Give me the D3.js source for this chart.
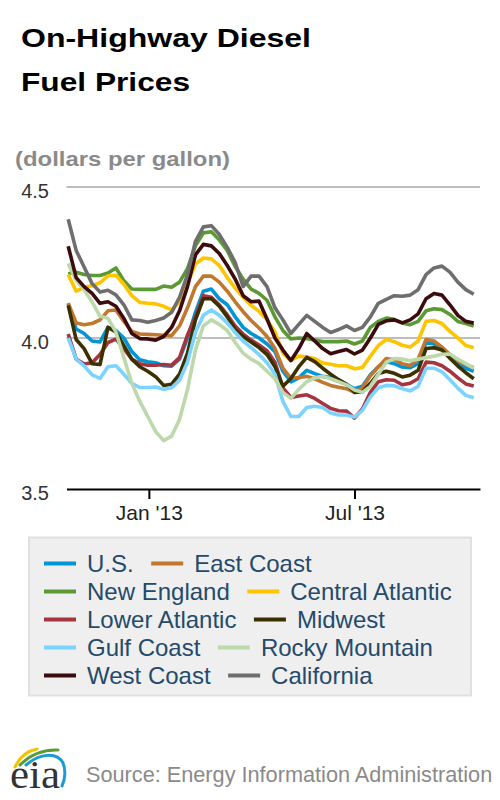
<!DOCTYPE html>
<html>
<head>
<meta charset="utf-8">
<script src="https://cdn.jsdelivr.net/npm/d3@7"></script>
<style>
  html, body { margin: 0; padding: 0; background: #ffffff; }
  svg { display: block; font-family: "Liberation Sans", Arial, Helvetica, sans-serif; }
</style>
</head>
<body>
<svg id="chart" width="500" height="800"></svg>
<script>
// ---------------- DATA ----------------
const seriesNames = ["U.S.", "East Coast", "New England", "Central Atlantic", "Lower Atlantic",
                     "Midwest", "Gulf Coast", "Rocky Mountain", "West Coast", "California"];
const seriesColors = ["#0096d6", "#c1772e", "#5b9a33", "#ffc400", "#a6343f",
                      "#3b3000", "#7bd3ff", "#bdd8ab", "#3c0b0e", "#6e6e6e"];

// weekly Mondays, Oct 22 2012 .. Oct 14 2013
const firstWeek = new Date(2012, 9, 22);
const lastWeek = new Date(2013, 9, 14);
const xTickDates = [new Date(2013, 0, 1), new Date(2013, 6, 1)];
const xTickLabels = ["Jan '13", "Jul '13"];
const yTickValues = [3.5, 4.0, 4.5];
const yTickLabels = ["3.5", "4.0", "4.5"];

const usPrices = [4.115,4.03,4.015,3.99,3.987,4.035,4.025,4.0,3.955,3.928,3.921,3.918,3.908,3.907,3.93,4.0,4.085,4.155,4.162,4.13,4.11,4.07,4.035,4.015,4.0,3.98,3.955,3.89,3.855,3.868,3.893,3.882,3.873,3.869,3.86,3.847,3.832,3.84,3.878,3.905,3.922,3.915,3.904,3.902,3.915,3.985,3.98,3.965,3.94,3.915,3.9,3.89];
const eastCoastPrices = [4.115,4.05,4.044,4.048,4.06,4.09,4.093,4.055,4.022,4.013,4.012,4.011,4.009,4.008,4.04,4.1,4.17,4.205,4.205,4.185,4.155,4.12,4.087,4.058,4.033,4.005,3.965,3.9,3.866,3.869,3.873,3.865,3.853,3.843,3.837,3.832,3.82,3.835,3.875,3.905,3.932,3.928,3.915,3.909,3.93,3.995,3.99,3.97,3.945,3.925,3.912,3.902];
const newEnglandPrices = [4.213,4.218,4.21,4.207,4.207,4.215,4.232,4.19,4.162,4.161,4.161,4.161,4.172,4.168,4.185,4.23,4.305,4.348,4.352,4.325,4.29,4.237,4.195,4.162,4.148,4.125,4.07,4.025,3.997,4.0,3.998,3.993,3.988,3.988,3.988,3.99,3.98,3.99,4.035,4.055,4.066,4.062,4.05,4.044,4.055,4.09,4.097,4.094,4.078,4.055,4.048,4.04];
const centralAtlanticPrices = [4.21,4.155,4.168,4.173,4.183,4.206,4.208,4.178,4.14,4.118,4.115,4.113,4.105,4.093,4.12,4.18,4.245,4.265,4.262,4.24,4.2,4.165,4.135,4.108,4.088,4.06,4.02,3.95,3.926,3.94,3.937,3.932,3.917,3.913,3.908,3.908,3.898,3.902,3.94,3.975,3.995,3.988,3.976,3.97,3.99,4.055,4.058,4.048,4.022,4.0,3.975,3.968];
const lowerAtlanticPrices = [4.013,3.93,3.914,3.918,3.945,3.985,3.996,3.965,3.93,3.915,3.91,3.91,3.912,3.91,3.935,4.01,4.07,4.14,4.135,4.11,4.077,4.04,4.013,3.993,3.977,3.958,3.92,3.835,3.803,3.808,3.812,3.8,3.783,3.767,3.759,3.758,3.735,3.765,3.82,3.855,3.862,3.86,3.845,3.85,3.865,3.92,3.918,3.908,3.89,3.868,3.848,3.841];
const midwestPrices = [4.108,3.995,3.965,3.915,3.912,4.035,4.02,3.975,3.93,3.905,3.89,3.872,3.843,3.847,3.88,3.95,4.06,4.13,4.13,4.105,4.07,4.028,4.005,3.987,3.968,3.945,3.905,3.84,3.866,3.905,3.936,3.922,3.9,3.88,3.862,3.847,3.82,3.822,3.85,3.882,3.89,3.883,3.871,3.877,3.893,3.965,3.968,3.96,3.933,3.907,3.885,3.865];
const gulfCoastPrices = [4.0,3.93,3.908,3.878,3.866,3.905,3.908,3.88,3.85,3.836,3.836,3.838,3.83,3.835,3.86,3.92,4.02,4.075,4.093,4.075,4.05,4.018,3.99,3.968,3.945,3.918,3.88,3.79,3.74,3.74,3.77,3.774,3.77,3.752,3.745,3.745,3.738,3.76,3.805,3.835,3.843,3.842,3.832,3.825,3.84,3.9,3.9,3.888,3.862,3.834,3.81,3.802];
const rockyMountainPrices = [4.247,4.19,4.16,4.12,4.072,4.065,4.02,3.935,3.85,3.79,3.74,3.69,3.66,3.675,3.73,3.83,3.96,4.04,4.06,4.045,4.025,3.985,3.95,3.93,3.915,3.89,3.865,3.82,3.8,3.83,3.855,3.868,3.873,3.865,3.855,3.845,3.828,3.82,3.84,3.88,3.92,3.932,3.93,3.925,3.93,3.935,3.94,3.946,3.947,3.93,3.915,3.9];
const westCoastPrices = [4.304,4.2,4.17,4.148,4.115,4.12,4.105,4.065,4.015,3.998,3.997,3.993,4.005,4.035,4.09,4.17,4.275,4.31,4.305,4.28,4.24,4.195,4.14,4.12,4.122,4.063,4.0,3.96,3.925,3.965,4.015,3.99,3.965,3.948,3.955,3.962,3.947,3.96,4.0,4.045,4.057,4.06,4.05,4.06,4.08,4.13,4.147,4.142,4.11,4.075,4.055,4.05];
const californiaPrices = [4.393,4.29,4.235,4.18,4.152,4.158,4.143,4.11,4.06,4.058,4.052,4.058,4.066,4.085,4.135,4.21,4.32,4.368,4.372,4.343,4.3,4.25,4.17,4.205,4.205,4.17,4.1,4.06,4.015,4.045,4.075,4.055,4.035,4.018,4.028,4.04,4.025,4.035,4.07,4.115,4.128,4.14,4.138,4.142,4.16,4.21,4.232,4.238,4.218,4.185,4.16,4.145];

const seriesValues = [usPrices, eastCoastPrices, newEnglandPrices, centralAtlanticPrices,
  lowerAtlanticPrices, midwestPrices, gulfCoastPrices, rockyMountainPrices, westCoastPrices, californiaPrices];

// ---------------- CHART ----------------
const svg = d3.select("#chart");
const weeks = d3.timeMonday.range(firstWeek, d3.timeDay.offset(lastWeek, 1));

const x = d3.scaleTime()
  .domain([new Date(2012, 9, 20, 12), new Date(2013, 9, 19, 12)])
  .range([66.5, 480]);
const y = d3.scaleLinear().domain([3.5, 4.5]).range([489, 187]);

// Title
svg.append("text").attr("x", 21).attr("y", 47)
  .attr("font-size", 26.5).attr("font-weight", "bold").attr("fill", "#000")
  .attr("textLength", 290).attr("lengthAdjust", "spacingAndGlyphs")
  .text("On-Highway Diesel");
svg.append("text").attr("x", 21).attr("y", 90.5)
  .attr("font-size", 26.5).attr("font-weight", "bold").attr("fill", "#000")
  .attr("textLength", 169).attr("lengthAdjust", "spacingAndGlyphs")
  .text("Fuel Prices");

// Subtitle
svg.append("text").attr("x", 15).attr("y", 166)
  .attr("font-size", 21).attr("font-weight", "bold").attr("fill", "#8a8a8a")
  .attr("textLength", 215).attr("lengthAdjust", "spacingAndGlyphs")
  .text("(dollars per gallon)");

// Gridlines (4.0, 4.5)
const [x0, x1] = x.range();
svg.append("g").selectAll("line")
  .data(yTickValues.filter(v => v > 3.5))
  .join("line")
  .attr("x1", x0).attr("x2", x1)
  .attr("y1", d => y(d)).attr("y2", d => y(d))
  .attr("stroke", "#bdbdbd").attr("stroke-width", 2);

// Y labels
svg.append("g").selectAll("text")
  .data(yTickValues)
  .join("text")
  .attr("x", 49).attr("y", d => y(d) + 11)
  .attr("text-anchor", "end").attr("font-size", 20).attr("fill", "#333")
  .text((d, i) => yTickLabels[i]);

// Lines
const line = d3.line()
  .x((d, i) => x(weeks[i]))
  .y(d => y(d));

svg.append("g").selectAll("path")
  .data(seriesValues)
  .join("path")
  .attr("d", d => line(d))
  .attr("fill", "none")
  .attr("stroke", (d, i) => seriesColors[i])
  .attr("stroke-width", 3.6)
  .attr("stroke-linejoin", "round");

// X axis
const xAxis = d3.axisBottom(x)
  .tickValues(xTickDates)
  .tickFormat((d, i) => xTickLabels[i])
  .tickSize(10).tickSizeOuter(0).tickPadding(6);
const gx = svg.append("g").attr("transform", `translate(0,${y(3.5)})`).call(xAxis);
gx.select(".domain").attr("stroke", "#000").attr("stroke-width", 2.2);
gx.selectAll(".tick line").attr("stroke", "#000").attr("stroke-width", 2);
gx.selectAll(".tick text").attr("font-size", 21).attr("fill", "#222")
  .attr("font-family", "Liberation Sans, Arial, sans-serif");

// Legend
const legend = svg.append("g");
legend.append("rect").attr("x", 29).attr("y", 537.5).attr("width", 442).attr("height", 158)
  .attr("fill", "#efefef").attr("stroke", "#e0e0e0").attr("stroke-width", 2);
const rows = [[0, 1], [2, 3], [4, 5], [6, 7], [8, 9]];
rows.forEach((row, r) => {
  let cx = 44;
  const by = 572 + r * 28;
  row.forEach(idx => {
    const g = legend.append("g");
    g.append("line").attr("x1", cx).attr("x2", cx + 32)
      .attr("y1", by - 8.5).attr("y2", by - 8.5)
      .attr("stroke", seriesColors[idx]).attr("stroke-width", 4);
    const t = g.append("text").attr("x", cx + 43).attr("y", by)
      .attr("font-size", 24).attr("fill", "#244a6c").text(seriesNames[idx]);
    cx += 43 + t.node().getComputedTextLength() + 17.5;
  });
});

// Footer: EIA logo
const logo = svg.append("g");
logo.append("path").attr("d", "M15,767 Q22,752 37,749")
  .attr("fill", "none").attr("stroke", "#f2c200").attr("stroke-width", 3).attr("stroke-linecap", "round");
logo.append("path").attr("d", "M20,765 Q36,749 58,750")
  .attr("fill", "none").attr("stroke", "#5c9b34").attr("stroke-width", 3).attr("stroke-linecap", "round");
logo.append("path").attr("d", "M26,765 C40,753 57,752 63,763 C66,770 65,780 62,786")
  .attr("fill", "none").attr("stroke", "#1a9ad8").attr("stroke-width", 3).attr("stroke-linecap", "round");
logo.append("text").attr("x", 10).attr("y", 788)
  .attr("font-family", "Liberation Serif, 'DejaVu Serif', serif")
  .attr("font-size", 40).attr("fill", "#333")
  .attr("textLength", 50).attr("lengthAdjust", "spacingAndGlyphs")
  .text("eia");

svg.append("text").attr("x", 86).attr("y", 782)
  .attr("font-size", 21.7).attr("fill", "#8a8a8a")
  .text("Source: Energy Information Administration");
</script>
</body>
</html>
